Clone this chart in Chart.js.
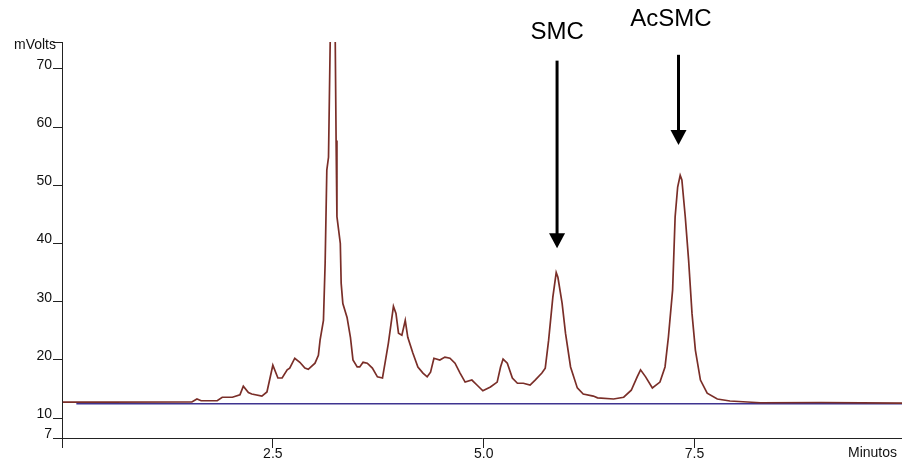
<!DOCTYPE html>
<html>
<head>
<meta charset="utf-8">
<script src="https://cdn.jsdelivr.net/npm/chart.js@4/dist/chart.umd.min.js"></script>
<style>
  html, body { margin: 0; padding: 0; background: #fff; }
  #wrap { width: 902px; height: 461px; }
</style>
</head>
<body>
<div id="wrap"><canvas id="chart"></canvas></div>
<script>
// chromatogram trace (minutes, mVolts)
const traceTimes = [0.01, 0.53, 1.54, 1.60, 1.65, 1.84, 1.90, 2.02, 2.11, 2.15, 2.21, 2.25, 2.37, 2.43, 2.50, 2.56, 2.61, 2.67, 2.70, 2.76, 2.82, 2.88, 2.92, 3.00, 3.04, 3.06, 3.10, 3.12, 3.14, 3.16, 3.18, 3.21, 3.24, 3.25, 3.26, 3.30, 3.31, 3.33, 3.38, 3.42, 3.45, 3.50, 3.53, 3.57, 3.62, 3.68, 3.74, 3.80, 3.83, 3.87, 3.93, 3.96, 3.99, 4.03, 4.07, 4.10, 4.16, 4.22, 4.28, 4.33, 4.37, 4.41, 4.48, 4.54, 4.60, 4.66, 4.72, 4.78, 4.86, 4.92, 4.99, 5.08, 5.16, 5.20, 5.23, 5.28, 5.34, 5.40, 5.47, 5.55, 5.61, 5.69, 5.73, 5.77, 5.82, 5.86, 5.88, 5.93, 5.97, 6.03, 6.11, 6.18, 6.30, 6.35, 6.54, 6.66, 6.75, 6.82, 6.86, 6.92, 7.00, 7.09, 7.15, 7.19, 7.24, 7.27, 7.30, 7.33, 7.35, 7.39, 7.43, 7.47, 7.51, 7.57, 7.65, 7.77, 7.92, 8.28, 9.00, 9.96];
const traceSignal = [12.75, 12.75, 12.8, 13.3, 13.0, 13.0, 13.6, 13.6, 14.0, 15.5, 14.4, 14.15, 13.8, 14.5, 19.1, 16.9, 16.9, 18.3, 18.6, 20.3, 19.6, 18.6, 18.4, 19.45, 20.8, 23.4, 26.8, 36.6, 52.6, 54.8, 74.5, 95.0, 74.5, 57.7, 44.6, 40.0, 33.2, 29.7, 27.3, 23.9, 20.0, 18.8, 18.8, 19.6, 19.45, 18.6, 17.1, 16.9, 19.45, 22.9, 29.2, 28.0, 24.6, 24.25, 26.8, 23.9, 21.2, 18.8, 17.75, 17.1, 17.9, 20.3, 20.0, 20.5, 20.3, 19.45, 17.75, 16.2, 16.55, 15.7, 14.7, 15.35, 16.2, 18.8, 20.15, 19.45, 16.9, 16.0, 16.0, 15.7, 16.55, 17.75, 18.6, 23.4, 30.8, 35.0, 34.2, 29.7, 24.6, 18.8, 15.2, 14.15, 13.8, 13.5, 13.3, 13.6, 14.8, 17.1, 18.3, 17.1, 15.2, 16.2, 18.8, 23.9, 32.0, 44.6, 49.7, 51.7, 50.9, 44.6, 37.1, 28.0, 21.7, 16.55, 14.3, 13.3, 12.95, 12.65, 12.7, 12.6];

// baseline trace
const baselineTimes = [0.17, 9.96];
const baselineSignal = [12.48, 12.48];

const xTicks = [0, 2.5, 5.0, 7.5];
const yTicks = [6.6, 10, 20, 30, 40, 50, 60, 70, 74.6];

// peak annotations: name, arrow time, label time, arrow top/tip and label baseline (mVolts)
const peakNames = ['SMC', 'AcSMC'];
const peakArrowTimes = [5.87, 7.31];
const peakLabelTimes = [5.87, 7.22];
const peakArrowTop = [71.4, 72.4];
const peakArrowTip = [39.2, 56.9];
const peakLabelLevel = [75.2, 77.4];

const FONT = "'Liberation Sans', Arial, sans-serif";

const annotations = {
    id: 'annotations',
    afterDraw(chart) {
        const ctx = chart.ctx, xs = chart.scales.x, ys = chart.scales.y, area = chart.chartArea;
        ctx.save();
        ctx.fillStyle = '#000';
        ctx.strokeStyle = '#000';
        peakNames.forEach((name, i) => {
            const x = xs.getPixelForValue(peakArrowTimes[i]);
            const top = ys.getPixelForValue(peakArrowTop[i]);
            const tip = ys.getPixelForValue(peakArrowTip[i]);
            ctx.lineWidth = 3;
            ctx.beginPath();
            ctx.moveTo(x, top);
            ctx.lineTo(x, tip - 14);
            ctx.stroke();
            ctx.beginPath();
            ctx.moveTo(x - 8, tip - 15);
            ctx.lineTo(x + 8, tip - 15);
            ctx.lineTo(x, tip);
            ctx.closePath();
            ctx.fill();
            ctx.font = '24px ' + FONT;
            ctx.textAlign = 'center';
            ctx.textBaseline = 'alphabetic';
            ctx.fillText(name, xs.getPixelForValue(peakLabelTimes[i]), ys.getPixelForValue(peakLabelLevel[i]));
        });
        ctx.font = '14px ' + FONT;
        ctx.fillStyle = '#111';
        ctx.textAlign = 'right';
        ctx.fillText('mVolts', area.left - 6, area.top + 7);
        ctx.fillText('Minutos', 897, 457);
        ctx.restore();
    }
};

new Chart(document.getElementById('chart'), {
    type: 'line',
    data: {
        datasets: [
            {
                label: 'Trace',
                data: traceTimes.map((t, i) => ({ x: t, y: traceSignal[i] })),
                borderColor: '#7a2e28',
                borderWidth: 1.7,
                pointRadius: 0,
                tension: 0
            },
            {
                label: 'Baseline',
                data: baselineTimes.map((t, i) => ({ x: t, y: baselineSignal[i] })),
                borderColor: '#3f3490',
                borderWidth: 1.3,
                pointRadius: 0,
                tension: 0
            }
        ]
    },
    options: {
        responsive: true,
        maintainAspectRatio: false,
        animation: false,
        layout: { padding: { top: 42, left: 0, right: 0, bottom: 0 } },
        plugins: {
            legend: { display: false },
            title: { display: false },
            tooltip: { enabled: false }
        },
        scales: {
            x: {
                type: 'linear',
                min: 0,
                max: 9.96,
                afterBuildTicks: scale => { scale.ticks = xTicks.map(v => ({ value: v })); },
                afterFit: scale => { scale.height = 23; },
                border: { color: '#222', width: 1 },
                grid: { drawOnChartArea: false, tickLength: 10, color: '#222' },
                ticks: {
                    padding: -2,
                    maxRotation: 0,
                    color: '#111',
                    font: { family: FONT, size: 14 },
                    callback: v => v === 0 ? '' : v.toFixed(1)
                }
            },
            y: {
                min: 6.6,
                max: 74.6,
                afterBuildTicks: scale => { scale.ticks = yTicks.map(v => ({ value: v })); },
                afterFit: scale => { scale.width = 62; },
                border: { color: '#222', width: 1 },
                grid: { drawOnChartArea: false, tickLength: 9, color: '#222' },
                ticks: {
                    padding: 1,
                    labelOffset: -4,
                    color: '#111',
                    font: { family: FONT, size: 14 },
                    callback: v => v === 74.6 ? '' : String(Math.round(v))
                }
            }
        }
    },
    plugins: [annotations]
});
</script>
</body>
</html>
